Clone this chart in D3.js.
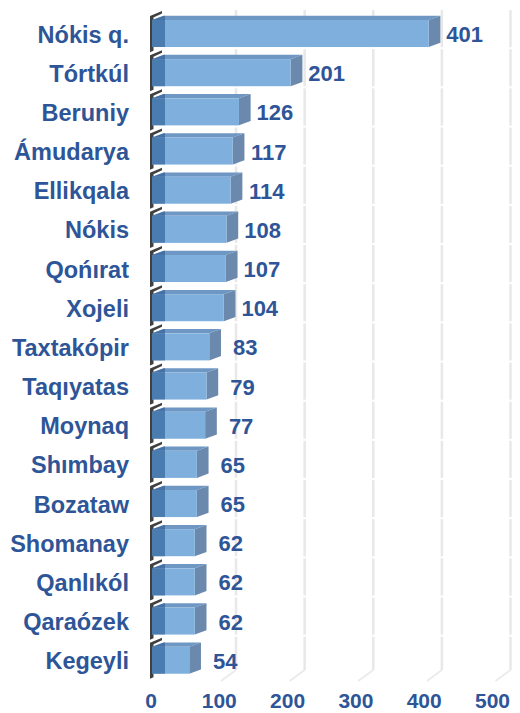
<!DOCTYPE html>
<html>
<head>
<meta charset="utf-8">
<script src="https://cdn.jsdelivr.net/npm/d3@7"></script>
<style>
  body { margin: 0; background: #fff; }
  text { font-family: "Liberation Sans", Arial, sans-serif; font-weight: bold; fill: #2E5597; }
</style>
</head>
<body>
<script>
// Data
const districts = ["Nókis q.", "Tórtkúl", "Beruniy", "Ámudarya", "Ellikqala", "Nókis", "Qońırat",
    "Xojeli", "Taxtakópir", "Taqıyatas", "Moynaq", "Shımbay", "Bozataw", "Shomanay",
    "Qanlıkól", "Qaraózek", "Kegeyli"];
const counts = [401, 201, 126, 117, 114, 108, 107, 104, 83, 79, 77, 65, 65, 62, 62, 62, 54];
const tickValues = [0, 100, 200, 300, 400, 500];

const width = 520, height = 713;
const depthX = 11.7, depthY = -4.3;   // bar depth offset (3D look)

const svg = d3.select("body").append("svg")
    .attr("width", width)
    .attr("height", height);

// Front plane (bars), tick plane and back wall (gridlines)
const x = d3.scaleLinear().domain([0, 500]).range([152, 497]);
const xTick = d3.scaleLinear().domain([0, 500]).range([151, 492.5]);
const xBack = d3.scaleLinear().domain([0, 500]).range([167.4, 510.5]);

const y = d3.scaleBand()
    .domain(districts)
    .range([13.93, 679.8])
    .paddingInner(0.31)
    .paddingOuter(0.155);

const step = y.step();
const bh = y.bandwidth();

// Gridlines on the back wall, broken per row
const grid = svg.append("g");
tickValues.filter(v => v > 0).forEach(v => {
    districts.forEach((d, i) => {
        const top = y(d) - 10;
        const bot = i === districts.length - 1 ? 670 : y(d) + step - 12;
        grid.append("line")
            .attr("x1", xBack(v)).attr("x2", xBack(v))
            .attr("y1", top).attr("y2", bot)
            .attr("stroke", "#E8E8E8")
            .attr("stroke-width", 2.5);
    });
    grid.append("line")
        .attr("x1", xBack(v)).attr("y1", 670)
        .attr("x2", xBack(v) - 15).attr("y2", 681)
        .attr("stroke", "#EBEBEB")
        .attr("stroke-width", 2);
});

// Left wall pieces
const wall = svg.append("g");
districts.forEach((d, i) => {
    const fT = y(d);
    const nB = fT + step;
    const pts = [[150, fT - 4], [162, fT - 9], [162, fT - 6.5], [153.5, fT - 2.5],
        [153.5, nB - 8.5], [150, nB - 7]];
    wall.append("path")
        .attr("d", "M" + pts.map(p => p.join(",")).join("L") + "Z")
        .attr("fill", "#404040");
});

// Bars
const bars = svg.append("g")
    .selectAll("g")
    .data(counts)
    .join("g");

bars.append("path")   // top face
    .attr("d", (v, i) => {
        const t = y(districts[i]);
        return `M${x(0)},${t}L${x(v)},${t}L${x(v) + depthX},${t + depthY}L${x(0) + depthX},${t + depthY}Z`;
    })
    .attr("fill", "#6F97C4");

bars.append("path")   // side face
    .attr("d", (v, i) => {
        const t = y(districts[i]);
        return `M${x(v)},${t}L${x(v) + depthX},${t + depthY}L${x(v) + depthX},${t + bh + depthY}L${x(v)},${t + bh}Z`;
    })
    .attr("fill", "#6A89AC");

bars.append("rect")   // front face
    .attr("x", x(0))
    .attr("y", (v, i) => y(districts[i]))
    .attr("width", v => x(v) - x(0))
    .attr("height", bh)
    .attr("fill", "#7EAFDD");

bars.append("path")   // wall shading over the bar start
    .attr("d", (v, i) => {
        const t = y(districts[i]);
        return `M${x(0)},${t}L${x(0) + depthX},${t + depthY}L${x(0) + 13},${t + depthY}L${x(0) + 13},${t + bh}L${x(0)},${t + bh}Z`;
    })
    .attr("fill", "#2A5A92")
    .attr("opacity", 0.6);

// Value labels
bars.append("text")
    .attr("x", v => x(v) + 36)
    .attr("y", (v, i) => y(districts[i]) + bh / 2 + 8.5)
    .attr("text-anchor", "middle")
    .style("font-size", "22px")
    .text(v => v);

// Category labels
svg.append("g")
    .selectAll("text")
    .data(districts)
    .join("text")
    .attr("x", 129)
    .attr("y", d => y(d) + bh / 2 + 9)
    .attr("text-anchor", "end")
    .style("font-size", "23.5px")
    .text(d => d);

// X tick labels
svg.append("g")
    .selectAll("text")
    .data(tickValues)
    .join("text")
    .attr("x", d => xTick(d))
    .attr("y", 708)
    .attr("text-anchor", "middle")
    .style("font-size", "21px")
    .text(d => d);
</script>
</body>
</html>
